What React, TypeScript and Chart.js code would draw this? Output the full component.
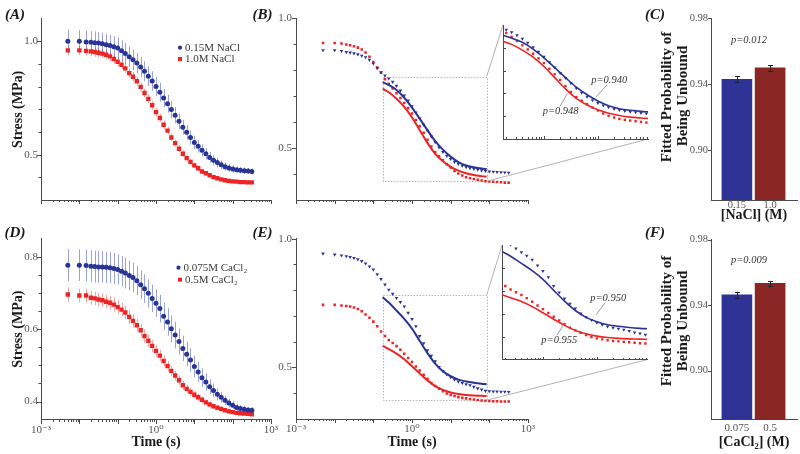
import React, { useEffect, useRef } from 'react';
import { Chart, registerables } from 'chart.js';

Chart.register(...registerables);

const SERIF = "'Liberation Serif', 'DejaVu Serif', 'Times New Roman', serif";
Chart.defaults.font.family = SERIF;

const BLUE = 'rgb(40,52,150)';
const RED = 'rgb(238,36,36)';
const BLUE_ERR = 'rgba(70,85,195,0.55)';
const RED_ERR = 'rgba(245,85,85,0.55)';
const BAR_BLUE = 'rgb(46,50,148)';
const BAR_RED = 'rgb(138,38,36)';
const AXIS = '#4a4a4a';
const TICK_TXT = '#555';
const INK = '#1a1a1a';

// ---------------- data ----------------
const TIME_S = [0.005, 0.01, 0.015, 0.02, 0.0251, 0.0316, 0.0398, 0.0501, 0.0631, 0.0794, 0.1, 0.126, 0.158, 0.2, 0.251, 0.316, 0.398, 0.501, 0.631, 0.794, 1, 1.26, 1.58, 2, 2.51, 3.16, 3.98, 5.01, 6.31, 7.94, 10, 12.6, 15.8, 20, 25.1, 31.6, 39.8, 50.1, 63.1, 79.4, 100, 126, 158, 200, 251, 316];

// (A) NaCl stress relaxation, mean and error
const STRESS_NACL_015 = [1.0, 1.0, 0.997, 0.996, 0.994, 0.993, 0.99, 0.985, 0.982, 0.976, 0.971, 0.959, 0.946, 0.932, 0.919, 0.904, 0.887, 0.868, 0.846, 0.825, 0.801, 0.776, 0.75, 0.725, 0.699, 0.674, 0.647, 0.621, 0.599, 0.576, 0.554, 0.537, 0.519, 0.504, 0.488, 0.475, 0.465, 0.456, 0.447, 0.441, 0.437, 0.434, 0.431, 0.429, 0.428, 0.426];
const ERR_NACL_015 = [0.052, 0.05, 0.05, 0.049, 0.049, 0.048, 0.048, 0.048, 0.047, 0.047, 0.047, 0.046, 0.046, 0.046, 0.045, 0.045, 0.045, 0.044, 0.044, 0.043, 0.042, 0.041, 0.04, 0.039, 0.038, 0.036, 0.035, 0.033, 0.032, 0.031, 0.03, 0.028, 0.027, 0.025, 0.024, 0.022, 0.021, 0.019, 0.018, 0.017, 0.016, 0.015, 0.014, 0.014, 0.013, 0.013];
const STRESS_NACL_10 = [0.96, 0.96, 0.958, 0.956, 0.953, 0.95, 0.946, 0.941, 0.934, 0.922, 0.91, 0.897, 0.881, 0.86, 0.844, 0.824, 0.799, 0.772, 0.746, 0.718, 0.688, 0.662, 0.632, 0.606, 0.576, 0.551, 0.526, 0.504, 0.485, 0.468, 0.453, 0.44, 0.426, 0.418, 0.409, 0.401, 0.396, 0.391, 0.387, 0.384, 0.382, 0.381, 0.379, 0.379, 0.378, 0.378];
const ERR_NACL_10 = [0.022, 0.021, 0.021, 0.021, 0.021, 0.021, 0.021, 0.021, 0.021, 0.021, 0.021, 0.021, 0.021, 0.021, 0.021, 0.02, 0.02, 0.02, 0.02, 0.019, 0.019, 0.018, 0.018, 0.017, 0.017, 0.016, 0.015, 0.015, 0.014, 0.013, 0.012, 0.012, 0.011, 0.01, 0.01, 0.009, 0.009, 0.008, 0.008, 0.008, 0.007, 0.007, 0.007, 0.007, 0.007, 0.007];

// (D) CaCl2 stress relaxation, mean and error
const STRESS_CACL2_0075 = [0.777, 0.777, 0.776, 0.774, 0.773, 0.772, 0.772, 0.771, 0.77, 0.768, 0.765, 0.76, 0.755, 0.748, 0.743, 0.734, 0.723, 0.712, 0.699, 0.685, 0.672, 0.657, 0.636, 0.62, 0.601, 0.584, 0.566, 0.547, 0.531, 0.515, 0.497, 0.482, 0.466, 0.454, 0.441, 0.431, 0.42, 0.412, 0.404, 0.396, 0.39, 0.384, 0.381, 0.379, 0.377, 0.376];
const ERR_CACL2_0075 = [0.045, 0.044, 0.044, 0.044, 0.044, 0.044, 0.043, 0.043, 0.043, 0.043, 0.042, 0.042, 0.042, 0.041, 0.041, 0.04, 0.04, 0.039, 0.039, 0.038, 0.038, 0.038, 0.038, 0.038, 0.037, 0.037, 0.036, 0.035, 0.034, 0.032, 0.03, 0.028, 0.026, 0.024, 0.021, 0.019, 0.017, 0.015, 0.013, 0.012, 0.011, 0.01, 0.009, 0.009, 0.008, 0.008];
const STRESS_CACL2_05 = [0.696, 0.693, 0.693, 0.687, 0.685, 0.682, 0.68, 0.676, 0.673, 0.668, 0.661, 0.654, 0.646, 0.634, 0.623, 0.611, 0.597, 0.581, 0.568, 0.554, 0.54, 0.527, 0.512, 0.498, 0.485, 0.472, 0.459, 0.445, 0.435, 0.427, 0.419, 0.412, 0.405, 0.398, 0.392, 0.387, 0.383, 0.38, 0.376, 0.373, 0.371, 0.369, 0.368, 0.367, 0.366, 0.365];
const ERR_CACL2_05 = [0.02, 0.019, 0.019, 0.019, 0.019, 0.019, 0.019, 0.019, 0.019, 0.019, 0.019, 0.019, 0.019, 0.019, 0.018, 0.018, 0.018, 0.018, 0.017, 0.017, 0.017, 0.016, 0.016, 0.015, 0.015, 0.014, 0.013, 0.013, 0.012, 0.011, 0.01, 0.01, 0.009, 0.008, 0.008, 0.007, 0.007, 0.006, 0.006, 0.006, 0.005, 0.005, 0.005, 0.005, 0.005, 0.005];

// (B) NaCl data points and fits
const DATA_B_015 = [0.877, 0.877, 0.874, 0.87, 0.868, 0.865, 0.861, 0.856, 0.85, 0.84, 0.826, 0.808, 0.792, 0.779, 0.768, 0.755, 0.74, 0.722, 0.702, 0.683, 0.661, 0.637, 0.614, 0.59, 0.567, 0.544, 0.523, 0.503, 0.485, 0.47, 0.458, 0.447, 0.439, 0.432, 0.427, 0.423, 0.42, 0.417, 0.414, 0.412, 0.41, 0.409, 0.408, 0.407, 0.406, 0.405];
const DATA_B_10 = [0.905, 0.905, 0.903, 0.899, 0.896, 0.892, 0.887, 0.88, 0.868, 0.852, 0.832, 0.81, 0.79, 0.765, 0.748, 0.73, 0.711, 0.693, 0.674, 0.654, 0.633, 0.608, 0.584, 0.559, 0.532, 0.506, 0.484, 0.468, 0.453, 0.438, 0.425, 0.412, 0.402, 0.394, 0.388, 0.384, 0.381, 0.378, 0.375, 0.372, 0.371, 0.37, 0.369, 0.368, 0.367, 0.367];
// (E) CaCl2 data points and fits
const DATA_E_0075 = [0.942, 0.938, 0.935, 0.932, 0.929, 0.925, 0.92, 0.913, 0.904, 0.892, 0.88, 0.862, 0.843, 0.822, 0.802, 0.786, 0.77, 0.754, 0.737, 0.712, 0.688, 0.66, 0.622, 0.594, 0.567, 0.545, 0.524, 0.502, 0.486, 0.473, 0.462, 0.453, 0.445, 0.44, 0.435, 0.431, 0.425, 0.419, 0.414, 0.409, 0.408, 0.407, 0.407, 0.406, 0.406, 0.405];
const DATA_E_05 = [0.743, 0.743, 0.741, 0.739, 0.737, 0.733, 0.727, 0.718, 0.706, 0.693, 0.678, 0.66, 0.64, 0.622, 0.607, 0.595, 0.583, 0.569, 0.553, 0.537, 0.521, 0.504, 0.488, 0.472, 0.456, 0.44, 0.428, 0.418, 0.408, 0.399, 0.393, 0.389, 0.385, 0.382, 0.38, 0.378, 0.376, 0.374, 0.372, 0.371, 0.37, 0.369, 0.369, 0.368, 0.368, 0.368];

const TIME_FIT = [0.174, 0.251, 0.398, 0.631, 1, 1.585, 2.512, 3.981, 6.31, 10, 15.85, 25.12, 39.81, 63.1, 85.1];
const FIT_B_015 = [0.754, 0.743, 0.724, 0.694, 0.656, 0.613, 0.569, 0.527, 0.494, 0.467, 0.446, 0.433, 0.426, 0.421, 0.419];
const FIT_B_10 = [0.729, 0.715, 0.69, 0.659, 0.618, 0.569, 0.52, 0.478, 0.449, 0.428, 0.413, 0.403, 0.396, 0.392, 0.39];
const FIT_E_0075 = [0.773, 0.752, 0.721, 0.689, 0.651, 0.603, 0.556, 0.515, 0.485, 0.466, 0.453, 0.446, 0.441, 0.437, 0.435];
const FIT_E_05 = [0.584, 0.571, 0.554, 0.532, 0.505, 0.477, 0.45, 0.428, 0.413, 0.403, 0.397, 0.393, 0.391, 0.39, 0.389];

// zoom windows
const ZOOM_T = [0.174, 85.1];
const ZOOM_V_B = [0.372, 0.775];
const ZOOM_V_E = [0.373, 0.78];
const INSET_V = [0.3, 0.8];

// (C) & (F) fitted probabilities
const BAR_POS = [0, 1];
const NACL_LABELS = ['0.15', '1.0'];
const PROB_NACL = [0.943, 0.95];
const PROB_NACL_ERR = [0.0018, 0.0017];
const CACL2_LABELS = ['0.075', '0.5'];
const PROB_CACL2 = [0.9463, 0.9533];
const PROB_CACL2_ERR = [0.0019, 0.0015];
const P_NACL = 'p=0.012';
const P_CACL2 = 'p=0.009';
const P_FIT_B = ['p=0.940', 'p=0.948'];
const P_FIT_E = ['p=0.950', 'p=0.955'];

// ticks
const TIME_TICK_VALUES = [1e-3, 1, 1e3];
const TIME_TICK_LABELS = ['10⁻³', '10⁰', '10³'];
const STRESS_A_TICKS = [0.4, 0.5, 0.6, 0.7, 0.8, 0.9, 1.0];
const STRESS_A_LABELED = [0.5, 1.0];
const STRESS_D_TICKS = [0.4, 0.45, 0.5, 0.55, 0.6, 0.65, 0.7, 0.75, 0.8];
const STRESS_D_LABELED = [0.4, 0.6, 0.8];
const INSET_TICKS = [0.4, 0.5, 0.6, 0.7];
const PROB_TICKS = [0.9, 0.94, 0.98];

// ---------------- layout ----------------
const POS: any = {
  A: { left: 0, top: 0, w: 285, h: 227 },
  B: { left: 250, top: 0, w: 405, h: 227 },
  iB: { left: 495, top: 15, w: 160, h: 130 },
  C: { left: 640, top: 0, w: 160, h: 227 },
  D: { left: 0, top: 227, w: 285, h: 227 },
  E: { left: 250, top: 227, w: 405, h: 227 },
  iE: { left: 494, top: 235, w: 160, h: 130 },
  F: { left: 640, top: 227, w: 160, h: 227 },
};

const pts = (xs: number[], ys: number[]) => xs.map((x, i) => ({ x, y: ys[i] }));

function logTicks(min: number, max: number) {
  const out: any[] = [];
  for (let d = Math.floor(Math.log10(min)); d <= Math.ceil(Math.log10(max)); d++) {
    for (let m = 1; m <= 9; m++) {
      const v = m * Math.pow(10, d);
      if (v >= min * 0.9999 && v <= max * 1.0001) out.push({ value: v, major: m === 1 });
    }
  }
  return out;
}

function timeLabel(v: number) {
  const i = TIME_TICK_VALUES.findIndex((t) => Math.abs(Math.log10(t) - Math.log10(v)) < 1e-6);
  return i >= 0 ? TIME_TICK_LABELS[i] : '';
}

function base(padding: any) {
  return {
    responsive: false,
    animation: false,
    events: [],
    layout: { padding },
    plugins: { legend: { display: false }, tooltip: { enabled: false }, title: { display: false } },
  };
}

function timeAxis(min: number, max: number, o: any) {
  return {
    type: 'logarithmic',
    min,
    max,
    bounds: 'data',
    afterBuildTicks: (s: any) => { s.ticks = logTicks(min, max); },
    afterFit: (s: any) => { s.height = o.height; },
    grid: { display: false, drawTicks: false },
    border: { display: true, color: AXIS, width: 1 },
    ticks: { display: !!o.labels, autoSkip: false, maxRotation: 0, minRotation: 0, padding: 4, color: TICK_TXT, font: { family: SERIF, size: 11 }, callback: (v: any) => timeLabel(Number(v)) },
    title: o.title
      ? { display: true, text: o.title, color: INK, font: { family: SERIF, size: 14, weight: 'bold' }, padding: { top: 0, bottom: o.titlePad } }
      : { display: false },
  };
}

function valueAxis(min: number, max: number, ticks: number[], labeled: number[], o: any) {
  const isLab = (v: number) => labeled.some((l) => Math.abs(l - v) < 1e-9);
  return {
    type: 'linear',
    min,
    max,
    bounds: 'data',
    beginAtZero: false,
    afterBuildTicks: (s: any) => { s.ticks = ticks.map((v) => ({ value: v, major: isLab(v) })); },
    afterFit: (s: any) => { s.width = o.width; },
    grid: { display: false, drawTicks: false },
    border: { display: true, color: AXIS, width: 1 },
    ticks: {
      display: o.labels !== false,
      autoSkip: false,
      padding: o.pad ?? 3,
      color: TICK_TXT,
      font: { family: SERIF, size: o.size ?? 11 },
      callback: (v: any) => (isLab(Number(v)) ? Number(v).toFixed(o.digits ?? 1) : ''),
    },
    title: o.title
      ? { display: true, text: o.title, color: INK, font: { family: SERIF, size: 14, weight: 'bold' }, padding: { top: 10, bottom: 0 } }
      : { display: false },
  };
}

function barAxis(labels: string[], o: any) {
  return {
    type: 'linear',
    min: -0.78,
    max: 1.81,
    offset: false,
    bounds: 'data',
    afterBuildTicks: (s: any) => { s.ticks = BAR_POS.map((v) => ({ value: v })); },
    afterFit: (s: any) => { s.height = o.height; },
    grid: { display: false, drawTicks: false, offset: false },
    border: { display: true, color: AXIS, width: 1 },
    ticks: {
      autoSkip: false,
      maxRotation: 0,
      padding: o.pad,
      color: TICK_TXT,
      font: { family: SERIF, size: o.size ?? 11 },
      callback: (v: any) => { const i = BAR_POS.indexOf(Number(v)); return i >= 0 ? labels[i] : ''; },
    },
    title: { display: true, text: o.title, color: INK, font: { family: SERIF, size: 14, weight: 'bold' }, padding: { top: 0, bottom: o.titlePad } },
  };
}

// ---------------- drawing plugin ----------------
function decorPlugin(d: any) {
  const drawErr = (chart: any, e: any) => {
    const ctx = chart.ctx;
    const meta = chart.getDatasetMeta(e.ds);
    const ys = chart.scales.y;
    const data = chart.data.datasets[e.ds].data;
    ctx.save();
    ctx.strokeStyle = e.color;
    ctx.lineWidth = 1;
    ctx.beginPath();
    meta.data.forEach((el: any, j: number) => {
      const v = data[j].y;
      const er = e.err[j];
      const x = Math.round(el.x) + 0.5;
      const y1 = ys.getPixelForValue(v - er);
      const y2 = ys.getPixelForValue(v + er);
      ctx.moveTo(x, y1);
      ctx.lineTo(x, y2);
      if (e.cap) {
        ctx.moveTo(x - e.cap, Math.round(y1) + 0.5);
        ctx.lineTo(x + e.cap, Math.round(y1) + 0.5);
        ctx.moveTo(x - e.cap, Math.round(y2) + 0.5);
        ctx.lineTo(x + e.cap, Math.round(y2) + 0.5);
      }
    });
    ctx.stroke();
    ctx.restore();
  };
  const drawTicks = (chart: any) => {
    const { ctx, chartArea: ca } = chart;
    const t = d.ticks;
    if (!t) return;
    ctx.save();
    ctx.strokeStyle = AXIS;
    ctx.lineWidth = 1;
    ctx.beginPath();
    const sx = chart.scales.x;
    const sy = chart.scales.y;
    if (t.x) {
      const y0 = Math.round(ca.bottom);
      const dir = t.x.inward ? -1 : 1;
      for (const tk of sx.ticks) {
        const len = tk.major ? t.x.major : t.x.minor;
        const px = Math.round(sx.getPixelForValue(tk.value)) + 0.5;
        ctx.moveTo(px, y0);
        ctx.lineTo(px, y0 + dir * len);
      }
    }
    if (t.y) {
      const x0 = Math.round(ca.left);
      const dir = t.y.inward ? 1 : -1;
      for (const tk of sy.ticks) {
        const len = tk.major ? t.y.major : t.y.minor;
        const py = Math.round(sy.getPixelForValue(tk.value)) + 0.5;
        ctx.moveTo(x0, py);
        ctx.lineTo(x0 + dir * len, py);
      }
    }
    ctx.stroke();
    ctx.restore();
  };
  const drawText = (chart: any, t: any) => {
    const ctx = chart.ctx;
    let x = t.x;
    let y = t.y;
    if (t.data) {
      x = chart.scales.x.getPixelForValue(t.x);
      y = chart.scales.y.getPixelForValue(t.y);
    }
    ctx.save();
    ctx.font = t.font;
    ctx.fillStyle = t.color || INK;
    ctx.textAlign = t.align || 'center';
    ctx.textBaseline = 'middle';
    ctx.translate(x, y);
    if (t.rotate) ctx.rotate(t.rotate);
    ctx.fillText(t.text, 0, 0);
    ctx.restore();
  };
  return {
    id: 'decor',
    beforeDatasetsDraw(chart: any) {
      const { ctx, chartArea: ca } = chart;
      if (d.rect) {
        const sx = chart.scales.x;
        const sy = chart.scales.y;
        const x0 = Math.round(sx.getPixelForValue(d.rect.x0)) + 0.5;
        const x1 = Math.round(sx.getPixelForValue(d.rect.x1)) + 0.5;
        const yb = Math.round(sy.getPixelForValue(d.rect.y0)) + 0.5;
        const yt = Math.round(sy.getPixelForValue(d.rect.y1)) + 0.5;
        ctx.save();
        ctx.strokeStyle = '#b8b8b8';
        ctx.lineWidth = 1;
        ctx.setLineDash([1.5, 1.5]);
        ctx.strokeRect(x0, yt, x1 - x0, yb - yt);
        ctx.restore();
      }
      ctx.save();
      ctx.beginPath();
      ctx.rect(ca.left, ca.top, ca.right - ca.left, ca.bottom - ca.top);
      ctx.clip();
      (d.errors || []).filter((e: any) => !e.after).forEach((e: any) => drawErr(chart, e));
      ctx.restore();
    },
    afterDatasetsDraw(chart: any) {
      (d.errors || []).filter((e: any) => e.after).forEach((e: any) => drawErr(chart, e));
    },
    afterDraw(chart: any) {
      const ctx = chart.ctx;
      drawTicks(chart);
      if (d.rect && d.inset) {
        const sx = chart.scales.x;
        const sy = chart.scales.y;
        const x1 = sx.getPixelForValue(d.rect.x1);
        const yb = sy.getPixelForValue(d.rect.y0);
        const yt = sy.getPixelForValue(d.rect.y1);
        const b = d.inset();
        if (b) {
          ctx.save();
          ctx.strokeStyle = '#b3b3b3';
          ctx.lineWidth = 1;
          ctx.beginPath();
          ctx.moveTo(x1, yt);
          ctx.lineTo(b.left, b.top);
          ctx.moveTo(x1, yb);
          ctx.lineTo(b.right, b.bottom);
          ctx.stroke();
          ctx.restore();
        }
      }
      (d.segments || []).forEach((s: any) => {
        const sx = chart.scales.x;
        const sy = chart.scales.y;
        ctx.save();
        ctx.strokeStyle = '#9a9a9a';
        ctx.lineWidth = 1;
        ctx.beginPath();
        ctx.moveTo(sx.getPixelForValue(s[0][0]), sy.getPixelForValue(s[0][1]));
        ctx.lineTo(sx.getPixelForValue(s[1][0]), sy.getPixelForValue(s[1][1]));
        ctx.stroke();
        ctx.restore();
      });
      (d.legend || []).forEach((l: any) => {
        ctx.save();
        ctx.fillStyle = l.color;
        if (l.shape === 'circle') {
          ctx.beginPath();
          ctx.arc(l.x, l.y, 2.1, 0, Math.PI * 2);
          ctx.fill();
        } else {
          ctx.fillRect(l.x - 2, l.y - 2, 4, 4);
        }
        ctx.restore();
        drawText(chart, { text: l.text, x: l.x + 5, y: l.y, align: 'left', font: `11px ${SERIF}`, color: '#3a3a3a' });
      });
      (d.texts || []).forEach((t: any) => drawText(chart, t));
    },
  };
}

const LABEL_FONT = `italic bold 15px ${SERIF}`;
const P_FONT = `italic 10.5px ${SERIF}`;
const YT_FONT = `bold 15px ${SERIF}`;

function dotsBlueCircle(ys: number[], r: number) {
  return { data: pts(TIME_S, ys), pointStyle: 'circle', pointRadius: r, backgroundColor: BLUE, borderWidth: 0 };
}
function dotsRedRect(ys: number[], r: number) {
  return { data: pts(TIME_S, ys), pointStyle: 'rect', pointRadius: r, backgroundColor: RED, borderWidth: 0 };
}
function dotsBlueTri(ys: number[], r: number) {
  return { data: pts(TIME_S, ys), pointStyle: 'triangle', rotation: 180, pointRadius: r, backgroundColor: BLUE, borderWidth: 0 };
}
function fitLine(ys: number[], color: string, w: number) {
  return { data: pts(TIME_FIT, ys), showLine: true, pointRadius: 0, borderColor: color, borderWidth: w, cubicInterpolationMode: 'monotone', fill: false };
}

function relaxConfig(blue: number[], blueErr: number[], red: number[], redErr: number[], yAxis: any, pad: any, xAxis: any, extra: any) {
  return {
    type: 'scatter',
    data: { datasets: [dotsBlueCircle(blue, 2.5), dotsRedRect(red, 3.1)] },
    options: { ...base(pad), scales: { x: xAxis, y: yAxis } },
    plugins: [
      decorPlugin({
        ticks: { x: { major: 4, minor: 2, inward: false }, y: { major: 4, minor: 2.5, inward: false } },
        errors: [
          { ds: 1, err: redErr, color: RED_ERR },
          { ds: 0, err: blueErr, color: BLUE_ERR },
        ],
        ...extra,
      }),
    ],
  };
}

function fitConfig(fitB: number[], fitR: number[], dotB: number[], dotR: number[], pad: any, xAxis: any, extra: any) {
  return {
    type: 'scatter',
    data: { datasets: [fitLine(fitB, BLUE, 2), fitLine(fitR, RED, 2), dotsBlueTri(dotB, 2.1), dotsRedRect(dotR, 1.8)] },
    options: {
      ...base(pad),
      scales: { x: xAxis, y: valueAxis(0.3, 1.0, STRESS_A_TICKS, STRESS_A_LABELED, { width: 46, pad: 4 }) },
    },
    plugins: [decorPlugin({ ticks: { x: { major: 4, minor: 2 }, y: { major: 4, minor: 2.5 } }, ...extra })],
  };
}

function insetConfig(fitB: number[], fitR: number[], dotB: number[], dotR: number[], pad: any, xh: number, extra: any) {
  return {
    type: 'scatter',
    data: { datasets: [fitLine(fitB, BLUE, 1.6), fitLine(fitR, RED, 1.6), dotsBlueTri(dotB, 2), dotsRedRect(dotR, 1.7)] },
    options: {
      ...base(pad),
      scales: {
        x: timeAxis(ZOOM_T[0], ZOOM_T[1], { height: xh, labels: false }),
        y: valueAxis(INSET_V[0], INSET_V[1], INSET_TICKS, [], { width: 8, labels: false }),
      },
    },
    plugins: [decorPlugin({ ticks: { x: { major: 3, minor: 2, inward: true }, y: { major: 3, minor: 3, inward: true } }, ...extra })],
  };
}

function barConfig(vals: number[], errs: number[], labels: string[], pad: any, xh: number, labelPad: number, labelSize: number, titlePad: number, title: string, extra: any) {
  return {
    type: 'bar',
    data: {
      datasets: [
        { data: pts(BAR_POS, vals), backgroundColor: [BAR_BLUE, BAR_RED], borderWidth: 0, barThickness: 30 },
      ],
    },
    options: {
      ...base(pad),
      scales: {
        x: barAxis(labels, { height: xh, pad: labelPad, size: labelSize, title, titlePad }),
        y: valueAxis(0.87, 0.98, PROB_TICKS, PROB_TICKS, { width: 71, pad: 3, digits: 2, size: 10.5 }),
      },
    },
    plugins: [
      decorPlugin({
        ticks: { y: { major: 3, minor: 3 } },
        errors: [{ ds: 0, err: errs, color: '#222', cap: 2.5, after: true }],
        ...extra,
      }),
    ],
  };
}

function insetBox(getInset: () => any, insetPos: any, hostPos: any) {
  return () => {
    const c = getInset();
    if (!c || !c.chartArea) return null;
    const dx = insetPos.left - hostPos.left;
    const dy = insetPos.top - hostPos.top;
    return { left: c.chartArea.left + dx, top: c.chartArea.top + dy, right: c.chartArea.right + dx, bottom: c.chartArea.bottom + dy };
  };
}

export default function App() {
  const rA = useRef<HTMLCanvasElement>(null);
  const rB = useRef<HTMLCanvasElement>(null);
  const rIB = useRef<HTMLCanvasElement>(null);
  const rC = useRef<HTMLCanvasElement>(null);
  const rD = useRef<HTMLCanvasElement>(null);
  const rE = useRef<HTMLCanvasElement>(null);
  const rIE = useRef<HTMLCanvasElement>(null);
  const rF = useRef<HTMLCanvasElement>(null);

  useEffect(() => {
    const charts: Chart[] = [];
    const mk = (el: any, cfg: any) => {
      const c = new Chart(el, cfg);
      charts.push(c);
      return c;
    };

    // insets first so the main panels can connect to them
    const insetB = mk(
      rIB.current,
      insetConfig(FIT_B_015, FIT_B_10, DATA_B_015, DATA_B_10, { left: 0, top: 10, right: 7, bottom: 0 }, 6, {
        texts: [
          { text: P_FIT_B[0], x: 16.2, y: 0.559, data: true, font: P_FONT, color: '#333' },
          { text: P_FIT_B[1], x: 2.04, y: 0.422, data: true, font: P_FONT, color: '#333' },
        ],
        segments: [
          [[14.7, 0.537], [9.3, 0.485]],
          [[2.0, 0.444], [2.72, 0.5]],
        ],
      })
    );
    const insetE = mk(
      rIE.current,
      insetConfig(FIT_E_0075, FIT_E_05, DATA_E_0075, DATA_E_05, { left: 0, top: 10.3, right: 7, bottom: 0 }, 5.3, {
        texts: [
          { text: P_FIT_E[0], x: 16.2, y: 0.569, data: true, font: P_FONT, color: '#333' },
          { text: P_FIT_E[1], x: 2.01, y: 0.386, data: true, font: P_FONT, color: '#333' },
        ],
        segments: [
          [[14.3, 0.55], [9.7, 0.496]],
          [[1.82, 0.408], [2.42, 0.453]],
        ],
      })
    );

    // (A)
    mk(
      rA.current,
      relaxConfig(
        STRESS_NACL_015, ERR_NACL_015, STRESS_NACL_10, ERR_NACL_10,
        valueAxis(0.3, 1.1, STRESS_A_TICKS, STRESS_A_LABELED, { width: 41, pad: 3, title: 'Stress (MPa)' }),
        { left: 0, top: 18.7, right: 14, bottom: 0 },
        timeAxis(1e-3, 1e3, { height: 27, labels: false }),
        {
          legend: [
            { shape: 'circle', color: BLUE, x: 180, y: 47.7, text: '0.15M NaCl' },
            { shape: 'rect', color: RED, x: 180, y: 59, text: '1.0M NaCl' },
          ],
          texts: [{ text: '(A)', x: 15, y: 15, font: LABEL_FONT }],
        }
      )
    );

    // (B)
    mk(
      rB.current,
      fitConfig(FIT_B_015, FIT_B_10, DATA_B_015, DATA_B_10, { left: 0, top: 18.3, right: 127, bottom: 0 },
        timeAxis(1e-3, 1e3, { height: 27, labels: false }),
        {
          rect: { x0: ZOOM_T[0], x1: ZOOM_T[1], y0: ZOOM_V_B[0], y1: ZOOM_V_B[1] },
          inset: insetBox(() => insetB, POS.iB, POS.B),
          texts: [{ text: '(B)', x: 12.5, y: 15, font: LABEL_FONT }],
        })
    );

    // (C)
    mk(
      rC.current,
      barConfig(PROB_NACL, PROB_NACL_ERR, NACL_LABELS, { left: 0, top: 18.3, right: 3, bottom: 0 }, 27, -1.5, 10.5, 3.2, '[NaCl] (M)', {
        texts: [
          { text: '(C)', x: 15, y: 15, font: LABEL_FONT },
          { text: P_NACL, x: 109, y: 40, font: P_FONT, color: '#333' },
          { text: 'Fitted Probability of', x: 27, y: 97, rotate: -Math.PI / 2, font: YT_FONT },
          { text: 'Being Unbound', x: 43, y: 96, rotate: -Math.PI / 2, font: YT_FONT },
        ],
      })
    );

    // (D)
    mk(
      rD.current,
      relaxConfig(
        STRESS_CACL2_0075, ERR_CACL2_0075, STRESS_CACL2_05, ERR_CACL2_05,
        valueAxis(0.35, 0.85, STRESS_D_TICKS, STRESS_D_LABELED, { width: 41, pad: 3, title: 'Stress (MPa)' }),
        { left: 0, top: 11.7, right: 14, bottom: 0 },
        timeAxis(1e-3, 1e3, { height: 34.3, labels: true, title: 'Time (s)', titlePad: 3.6 }),
        {
          legend: [
            { shape: 'circle', color: BLUE, x: 178.5, y: 40.7, text: '0.075M CaCl₂' },
            { shape: 'rect', color: RED, x: 180, y: 52.7, text: '0.5M CaCl₂' },
          ],
          texts: [{ text: '(D)', x: 15, y: 6.5, font: LABEL_FONT }],
        }
      )
    );

    // (E)
    mk(
      rE.current,
      fitConfig(FIT_E_0075, FIT_E_05, DATA_E_0075, DATA_E_05, { left: 0, top: 11.7, right: 127, bottom: 0 },
        timeAxis(1e-3, 1e3, { height: 35, labels: true, title: 'Time (s)', titlePad: 3.6 }),
        {
          rect: { x0: ZOOM_T[0], x1: ZOOM_T[1], y0: ZOOM_V_E[0], y1: ZOOM_V_E[1] },
          inset: insetBox(() => insetE, POS.iE, POS.E),
          texts: [{ text: '(E)', x: 12.5, y: 6.5, font: LABEL_FONT }],
        })
    );

    // (F)
    mk(
      rF.current,
      barConfig(PROB_CACL2, PROB_CACL2_ERR, CACL2_LABELS, { left: 0, top: 12.7, right: 3, bottom: 0 }, 34.3, 1.5, 11, 3.6, '[CaCl₂] (M)', {
        texts: [
          { text: '(F)', x: 15, y: 6.5, font: LABEL_FONT },
          { text: P_CACL2, x: 109, y: 33, font: P_FONT, color: '#333' },
          { text: 'Fitted Probability of', x: 27, y: 94, rotate: -Math.PI / 2, font: YT_FONT },
          { text: 'Being Unbound', x: 43, y: 94, rotate: -Math.PI / 2, font: YT_FONT },
        ],
      })
    );

    return () => {
      charts.forEach((c) => c.destroy());
    };
  }, []);

  const cv = (ref: any, p: any) => (
    <canvas
      ref={ref}
      width={p.w}
      height={p.h}
      style={{ position: 'absolute', left: p.left, top: p.top, width: p.w, height: p.h, display: 'block' }}
    />
  );

  return (
    <div style={{ position: 'fixed', left: 0, top: 0, width: 800, height: 454, background: '#fff', overflow: 'hidden' }}>
      {cv(rA, POS.A)}
      {cv(rB, POS.B)}
      {cv(rC, POS.C)}
      {cv(rD, POS.D)}
      {cv(rE, POS.E)}
      {cv(rF, POS.F)}
      {cv(rIB, POS.iB)}
      {cv(rIE, POS.iE)}
    </div>
  );
}
